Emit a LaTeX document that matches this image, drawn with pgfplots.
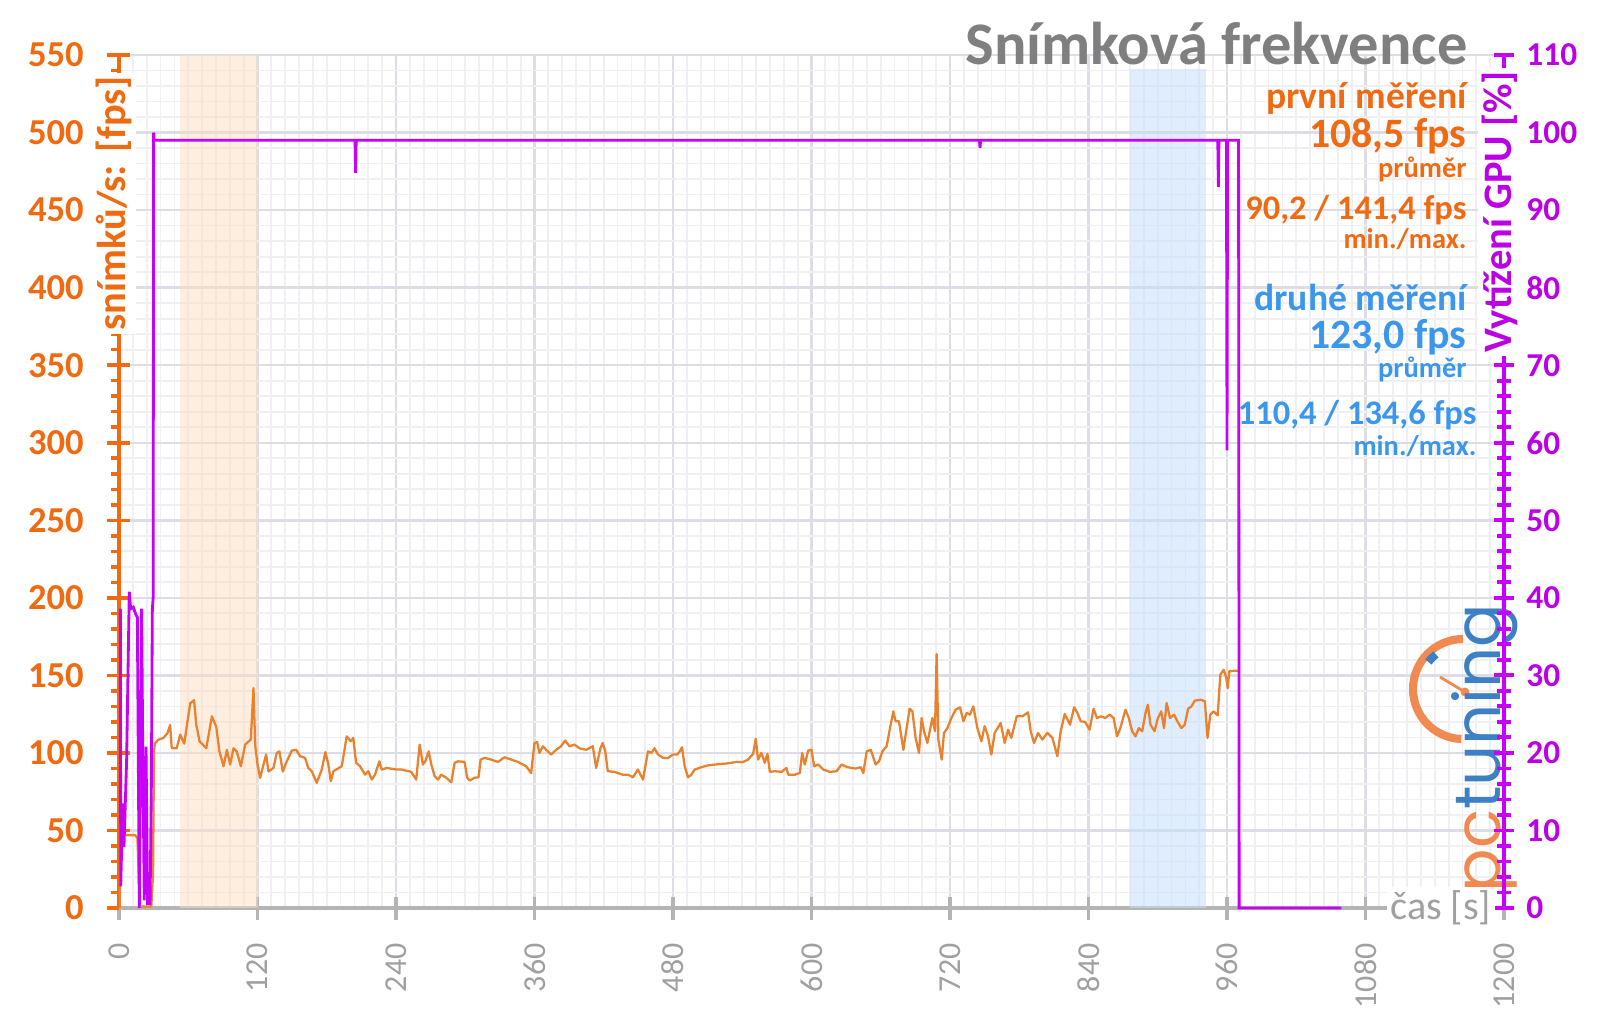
\documentclass[border=0pt]{standalone}
\usepackage{fontspec}
\setmainfont{Carlito}
\newfontfamily\logofont{Poppins}
\usepackage{pgfplots}
\pgfplotsset{compat=1.18}

\definecolor{fpsor}{HTML}{F06A12}
\definecolor{fpsline}{HTML}{E9822F}
\definecolor{gpum}{HTML}{C800F8}
\definecolor{gpulab}{HTML}{BB00E6}
\definecolor{blu}{HTML}{3B97EB}
\definecolor{ttl}{HTML}{7F7F7F}
\definecolor{xtl}{HTML}{A0A0A0}
\definecolor{axg}{HTML}{B4B4B4}
\definecolor{gmaj}{HTML}{DDDDE5}
\definecolor{gmin}{HTML}{F0F0F4}
\definecolor{bandor}{HTML}{FCDEC1}
\definecolor{bandbl}{HTML}{C5DEFA}
\definecolor{logoor}{HTML}{F08A50}
\definecolor{logobl}{HTML}{3E80C4}

\pgfplotstableread{
s fps
0.5 0
2 47
14 47
16 45
18 1
28 1
29.5 22
30.3 100
31 106
34 108.5
38.4 109.6
42 112.8
44.3 118
45.7 103
50 103
53 111.8
56.5 106
61.7 132
65 134
67 118
69.8 107.5
75.6 103
80.5 123.6
84.2 117
87 101
90.6 91.4
93.5 102
96.3 92.5
99.2 103
102 101
105.6 91.4
109.3 105.4
114.2 108.6
116.5 141.8
118 105
120 92.5
122.3 84
125.2 92.5
127.5 99
129.5 88
133.8 90.3
136.7 100
139 101
141.9 88
145.4 94.6
149.7 101.5
153.5 102
156.9 97.9
161.2 96.8
164 90.3
167 88.2
171.3 80.7
175.7 89.3
178.8 100.6
181.4 92.5
183.5 81.8
185.8 88.2
193 91.4
197.3 110.7
200.8 107.5
203 109.7
205.4 93.6
208.8 91.4
213.2 86
216 88.2
219 82.8
221.8 86
225.6 94.6
227.6 89.3
232 90.3
240.6 89.3
244.6 89.3
253.2 87.8
257.5 82.8
260.5 105.4
263.3 92.5
265.4 94.6
268.3 101
270.6 92.5
273.5 85
276.4 82.8
279.2 86
283.6 84
287.9 81
290.8 93.6
293.7 94.6
299.4 94.2
301.7 84
303.8 82.2
308.1 84
311.5 84.3
313.3 95.7
316.7 96.8
322.5 95.7
328.3 94.2
334 97.2
339.8 95.7
345.6 94.2
352.8 91.4
357.1 87
360 106.4
362.3 107
364.3 100
367.2 104.3
370.1 102
374.4 99
378.7 102
383 104.3
386.5 108
390.3 104.3
394.6 105.4
398.9 103
404.7 102
410.5 104.3
413.4 90.3
417.1 103
419.1 106.4
421.2 101.5
423.5 88.2
429.2 87.8
436.4 86
441 86
445.3 84.3
449.6 89.3
454 82.8
458.3 101
461.2 100
464 103
467 99
471.3 96.8
475.7 96.8
480 99
483.8 99
485.8 101
487.8 103.6
490.1 91.4
493 84.3
495.9 86
498.8 89.3
504.6 90.8
510.4 92
516.1 92.5
521.9 92.9
527.7 93.3
534.9 94.2
540.7 94.2
545 95.7
549.4 99.4
551.7 109.2
553.7 95.7
556.6 100
559.5 93.6
561.8 99.4
563.9 87.8
568.2 88.2
574 87.8
578.3 90.3
579.8 86
585.6 86
589.9 87.1
591.9 100
594.2 92.5
597.1 101.5
600 102
602.3 91.4
605.8 92.5
610.1 89.3
615.9 87.8
621.7 88.2
626 92.5
631.1 90.8
638.3 89.9
642.6 90.8
644.9 87.1
647.8 101
651.3 102
655.6 92.5
658.5 94.6
661.4 101
665.1 104.3
668 116
670.9 126.8
672.9 120.4
675.8 120.4
679.6 102
682.4 116
685 128.5
687.4 126.8
690.2 109.7
693.1 100
695.4 122.5
697.5 114
700.4 106.4
704.7 122.5
707 114
708.4 163.7
709.9 108.6
712.8 95.7
714.8 112.9
717.7 116
721.2 122.5
724.9 127.9
728.7 129.4
731.6 120.4
734.5 125.8
737.3 124.7
740.2 130
743.7 116
747.2 107.5
750 117.2
752.9 110.7
755.8 99
758.7 112.9
763.9 119.3
767.4 106.4
770.3 115
773.1 109.7
777.8 123.6
782.7 123.6
787.6 126.2
789.9 114
792.8 106.4
796.3 112.9
800 108.6
804.3 112.9
808.7 109.7
813 97.9
815.9 114
819.4 125.1
821.1 122.5
824 118.2
827.5 129.4
830.4 125.8
833.3 120.4
837.1 120
840.9 115
844.4 128.5
847.3 122.5
850.7 123.6
854.5 122.5
858.3 124.7
861.8 122.5
864.7 110.7
867.6 116
872 127.9
874.9 122.5
877.8 114
880.7 110.7
883.6 116
886.5 114
889.4 125.8
891.4 131.1
893.7 118.2
897.2 114
900.1 122.5
903 126.8
905.4 116
907.7 132.2
910.6 122.5
914.1 124.7
917 120.4
920.5 116
923.4 118.2
926.3 128.5
929.2 130
932.1 133.7
937.3 134.3
940.8 133.3
943.1 109.7
945.5 124.7
948.4 126.8
951.9 124.2
954.2 150.4
957.1 153.6
959.1 149.4
960.6 141.8
962 152.6
966.4 153
970 153
}\fpsdata

\pgfplotstableread{
s gpu
1.2 38.6
1.5 2.8
3.2 13.5
4.3 7.9
6.6 19
8.9 40.8
10.1 38.6
12.4 38.8
14.7 37.8
15.9 37.5
17.6 0
19.6 38.6
20.5 21.7
21.9 1
23.4 20.8
24.8 0.6
26.9 0.6
28.0 15
28.9 38.6
29.6 40
30 100
30.5 99
204.5 99
205 94.8
205.5 99
745.5 99
746 98
746.5 99
952 99
952.5 93
953 99
959.5 99
960 59
960.5 99
970 99
970.5 0
1059 0
}\gpudata

\begin{document}
\begin{tikzpicture}
\useasboundingbox (0,0) rectangle (16cm,10.09cm);
\begin{axis}[
  at={(1.19cm,1.01cm)}, anchor=south west,
  scale only axis, width=13.85cm, height=8.53cm,
  xmin=0, xmax=1200, ymin=0, ymax=550,
  axis x line*=bottom, axis y line*=left,
  xtick={0,120,...,1200}, ytick={0,50,...,550},
  minor x tick num=9, minor y tick num=4,
  grid=both,
  major grid style={gmaj, line width=0.7pt},
  minor grid style={gmin, line width=0.5pt},
  tick align=outside, major tick length=0.23cm, minor tick length=0.08cm,
  x axis line style={axg, line width=1.4pt, -},
  y axis line style={fpsor, line width=1.4pt, -},
  xtick style={axg, line width=1.1pt},
  ytick style={fpsor, line width=1pt},
  minor x tick style={draw=none},
  major y tick style={xshift=0.11cm},
  major x tick style={yshift=0.11cm},
  /pgf/number format/assume math mode=true,
  /pgf/number format/1000 sep={},
  yticklabel style={font=\fontsize{10.4}{12}\selectfont\bfseries, text=fpsor},
  xticklabel style={rotate=90, anchor=east, font=\fontsize{9.1}{11}\selectfont, text=xtl},
]
\addplot[fill=bandor, fill opacity=0.5, draw=none] coordinates {(53,550)(120,550)} \closedcycle;
\addplot[fill=bandbl, fill opacity=0.55, draw=none] coordinates {(876,541)(942,541)} \closedcycle;
\addplot[fpsline, line width=0.65pt, line join=round] table[x=s, y=fps] {\fpsdata};
\end{axis}

% logo
\draw[logoor, line width=2.3pt] (14.63cm,3.70cm) arc[start angle=90, end angle=268, radius=0.5cm];
\draw[logobl, line width=2.3pt] (14.63cm,3.20cm) ++(128:0.44cm) arc[start angle=128, end angle=142, radius=0.44cm];
\draw[logoor, line width=0.8pt] (14.65cm,3.17cm) -- (14.40cm,3.32cm);
\fill[logoor] (14.65cm,3.17cm) circle (0.045cm);
\node[rotate=90, anchor=base west, inner sep=0, font=\logofont\fontsize{18.3}{20}\selectfont] at (15.00cm,1.16cm) {\textcolor{logoor}{pc}\textcolor{logobl}{tuning}};

\begin{axis}[
  at={(1.19cm,1.01cm)}, anchor=south west,
  scale only axis, width=13.85cm, height=8.53cm,
  xmin=0, xmax=1200, ymin=0, ymax=110, clip=false,
  axis x line=none, axis y line*=right,
  ytick={0,10,...,110}, minor y tick num=4,
  tick align=center, major tick length=0.2cm, minor tick length=0.14cm,
  y axis line style={gpum, line width=1.2pt, -},
  ytick style={gpum, line width=1.1pt},
  /pgf/number format/assume math mode=true,
  yticklabel style={font=\fontsize{9.5}{11}\selectfont\bfseries, text=gpulab},
]
\addplot[gpum, line width=0.8pt] table[x=s, y=gpu] {\gpudata};
\end{axis}

\begin{scope}[x=0.01cm, y=-0.01cm, yshift=10.09cm]
\node[anchor=base east, inner sep=0, text=ttl, font=\fontsize{17.2}{20}\selectfont\bfseries] at (1469,65) {Snímková frekvence};
\node[anchor=base east, inner sep=0, text=fpsor, font=\fontsize{10.7}{12}\selectfont\bfseries] at (1468,109) {první měření};
\node[anchor=base east, inner sep=0, text=fpsor, font=\fontsize{11.9}{13}\selectfont\bfseries] at (1468,148) {108,5 fps};
\node[anchor=base east, inner sep=0, text=fpsor, font=\fontsize{8.1}{9}\selectfont\bfseries] at (1468,178) {průměr};
\node[anchor=base east, inner sep=0, text=fpsor, font=\fontsize{9.8}{11}\selectfont\bfseries] at (1468,220) {90,2 / 141,4 fps};
\node[anchor=base east, inner sep=0, text=fpsor, font=\fontsize{8.1}{9}\selectfont\bfseries] at (1468,249) {min./max.};
\node[anchor=base east, inner sep=0, text=blu, font=\fontsize{10.7}{12}\selectfont\bfseries] at (1468,311) {druhé měření};
\node[anchor=base east, inner sep=0, text=blu, font=\fontsize{11.9}{13}\selectfont\bfseries] at (1468,349) {123,0 fps};
\node[anchor=base east, inner sep=0, text=blu, font=\fontsize{8.1}{9}\selectfont\bfseries] at (1468,378) {průměr};
\node[anchor=base east, inner sep=0, text=blu, font=\fontsize{9.8}{11}\selectfont\bfseries] at (1478,425) {110,4 / 134,6 fps};
\node[anchor=base east, inner sep=0, text=blu, font=\fontsize{8.1}{9}\selectfont\bfseries] at (1478,456) {min./max.};
\node[rotate=90, anchor=base east, inner sep=1pt, fill=white, text=fpsor, font=\fontsize{11.5}{13}\selectfont\bfseries] at (126,72) {snímků/s: [fps]};
\node[rotate=90, anchor=base east, inner sep=1pt, fill=white, text=gpulab, font=\fontsize{11.5}{13}\selectfont\bfseries] at (1512,67) {Vytížení GPU [\%]};
\node[anchor=base west, inner sep=1pt, fill=white, text=xtl, font=\fontsize{11.4}{13}\selectfont] at (1387,920) {čas [s]};
\end{scope}
\end{tikzpicture}
\end{document}
